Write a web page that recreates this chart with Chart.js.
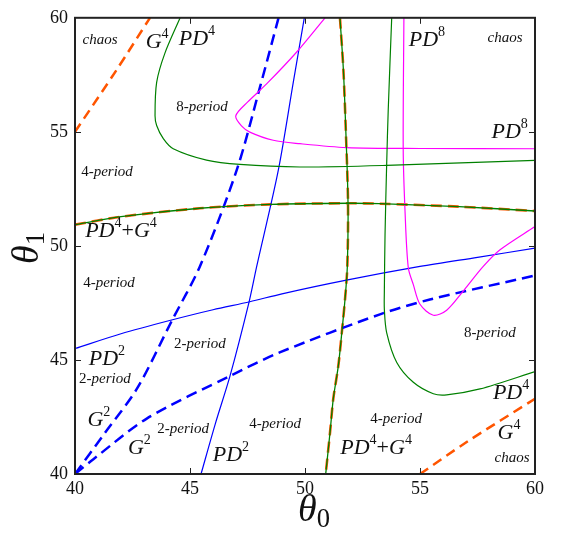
<!DOCTYPE html>
<html>
<head>
<meta charset="utf-8">
<script src="https://cdn.jsdelivr.net/npm/chart.js@4.4.1/dist/chart.umd.min.js"></script>
<style>
  html, body { margin: 0; padding: 0; background: #fff; }
  canvas { display: block; }
</style>
</head>
<body>
<canvas id="myChart" width="561" height="535"></canvas>
<script>
// axis ticks
const xTicks = [40, 45, 50, 55, 60];
const yTicks = [40, 45, 50, 55, 60];

// PD^2 curves (blue solid)
const pd2ShallowX = [40, 42, 44.2, 46, 47.6, 49, 51.8, 55, 57.5, 60];
const pd2ShallowY = [45.5, 46.15, 46.75, 47.2, 47.55, 47.9, 48.5, 49.1, 49.5, 49.9];
const pd2SteepX = [45.48, 46.1, 46.74, 47.57, 47.9, 48.84, 49.49, 49.97];
const pd2SteepY = [40, 42.2, 44.3, 47.55, 49.1, 53.32, 57.17, 60];

// G^2 curves (blue dashed)
const g2SteepX = [40, 41.3, 42.7, 44.2, 45.43, 47.03, 48.04, 48.85];
const g2SteepY = [40, 41.8, 43.75, 46.7, 49.1, 53.32, 56.95, 60];
const g2ShallowX = [40, 40.8, 43.12, 46.74, 48.9, 53.26, 55.43, 60];
const g2ShallowY = [40, 40.65, 42.43, 44.3, 45.33, 47.0, 47.65, 48.7];

// G^4 curves (orange dashed)
const g4TopX = [40, 41.83, 43.26];
const g4TopY = [55, 57.75, 60];
const g4BottomX = [55, 57.03, 60];
const g4BottomY = [40, 41.4, 43.3];

// PD^4 curves (green)
const pd4UpperX = [44.57, 43.91, 43.55, 43.48, 43.55, 43.84, 44.27, 45.72, 47.17, 49.78, 53.55, 60];
const pd4UpperY = [60, 58.45, 57.17, 55.71, 55.28, 54.7, 54.26, 53.76, 53.57, 53.46, 53.53, 53.75];
const pd4RightX = [53.77, 53.62, 53.55, 53.48, 53.45, 53.45, 53.55, 53.99, 54.71, 55.58, 56.16, 57.61, 60];
const pd4RightY = [60, 56, 53.55, 50.5, 48, 47.22, 46.2, 44.89, 44.02, 43.52, 43.47, 43.73, 44.49];

// PD^4+G^4 curves (green over orange dashed)
const pdgHorizX = [40, 42, 45.43, 48.52, 51.88, 53.26, 56.7, 60];
const pdgHorizY = [50.93, 51.28, 51.65, 51.82, 51.87, 51.85, 51.72, 51.53];
const pdgVertX = [51.52, 51.67, 51.78, 51.87, 51.84, 51.74, 51.6, 51.45, 51.23, 51.09, 50.9];
const pdgVertY = [60, 57.7, 54.9, 51.9, 49.1, 47.66, 46.2, 44.75, 43.3, 41.84, 40];

// PD^8 curves (magenta)
const pd8UpperX = [50.87, 49.64, 48.33, 47.5, 46.99, 47.25, 47.6, 48.62, 49.78, 51.81, 55, 60];
const pd8UpperY = [60, 58.5, 57.1, 56.3, 55.7, 55.25, 54.99, 54.63, 54.48, 54.31, 54.27, 54.26];
const pd8RightX = [54.3, 54.27, 54.35, 54.49, 54.71, 55.0, 55.58, 56.16, 56.88, 57.75, 58.48, 60];
const pd8RightY = [60, 54.26, 51.5, 49.05, 48.3, 47.44, 46.96, 47.18, 48.02, 49.1, 49.83, 50.85];

// text labels: [text, x, y, size]
const notes = [
  ['chaos', 41.09, 59.04, 15],
  ['G^4', 43.57, 58.95, 22],
  ['PD^4', 45.3, 59.05, 22],
  ['PD^8', 55.3, 59.0, 22],
  ['chaos', 58.7, 59.13, 15],
  ['8-period', 45.52, 56.08, 15],
  ['PD^8', 58.9, 55.0, 22],
  ['4-period', 41.39, 53.25, 15],
  ['PD^4+G^4', 42.0, 50.63, 22],
  ['4-period', 41.48, 48.37, 15],
  ['2-period', 45.43, 45.71, 15],
  ['PD^2', 41.39, 45.05, 22],
  ['2-period', 41.3, 44.18, 15],
  ['G^2', 41.04, 42.35, 22],
  ['2-period', 44.7, 41.96, 15],
  ['G^2', 42.8, 41.13, 22],
  ['PD^2', 46.78, 40.83, 22],
  ['4-period', 48.7, 42.18, 15],
  ['4-period', 53.96, 42.4, 15],
  ['PD^4+G^4', 53.09, 41.13, 22],
  ['8-period', 58.04, 46.19, 15],
  ['PD^4', 58.96, 43.53, 22],
  ['G^4', 58.87, 41.79, 22],
  ['chaos', 59.0, 40.7, 15]
];

const FONT = '"Liberation Serif", "Times New Roman", serif';

function pts(xs, ys) {
  return xs.map((x, i) => ({ x: x, y: ys[i] }));
}

function curve(xs, ys, color, width, dash, order) {
  return {
    data: pts(xs, ys),
    showLine: true,
    borderColor: color,
    borderWidth: width,
    borderDash: dash || [],
    pointRadius: 0,
    tension: 0.3,
    fill: false,
    order: order || 0
  };
}

// rich text: letters italic, '^' superscript, '_' subscript
function drawRich(ctx, str, size, subScale, subDrop) {
  const toks = [];
  for (let i = 0; i < str.length; i++) {
    let c = str[i], kind = 'n';
    if (c === '^' || c === '_') { kind = c; c = str[++i]; }
    const ital = /[A-Za-zθ]/.test(c);
    const s = kind === 'n' ? size : size * subScale;
    const dy = kind === '^' ? -size * 0.36 : kind === '_' ? size * subDrop : 0;
    toks.push({ c, s, dy, ital });
  }
  let w = 0;
  toks.forEach(t => {
    ctx.font = (t.ital ? 'italic ' : '') + t.s + 'px ' + FONT;
    t.w = ctx.measureText(t.c).width;
    w += t.w;
  });
  let x = -w / 2;
  toks.forEach(t => {
    ctx.font = (t.ital ? 'italic ' : '') + t.s + 'px ' + FONT;
    ctx.fillText(t.c, x, t.dy);
    x += t.w;
  });
}

const decor = {
  id: 'decor',
  afterDatasetsDraw(chart) {
    const ctx = chart.ctx, xs = chart.scales.x, ys = chart.scales.y;
    ctx.save();
    ctx.fillStyle = '#111';
    ctx.textBaseline = 'middle';
    ctx.textAlign = 'left';
    notes.forEach(n => {
      ctx.save();
      ctx.translate(xs.getPixelForValue(n[1]), ys.getPixelForValue(n[2]));
      drawRich(ctx, n[0], n[3], 0.64, 0.25);
      ctx.restore();
    });
    ctx.restore();
  },
  afterDraw(chart) {
    const ctx = chart.ctx, a = chart.chartArea;
    const xs = chart.scales.x, ys = chart.scales.y;
    ctx.save();
    ctx.strokeStyle = '#222';
    ctx.lineWidth = 1;
    ctx.beginPath();
    xTicks.slice(1, -1).forEach(v => {
      const p = Math.round(xs.getPixelForValue(v)) + 0.5;
      ctx.moveTo(p, a.bottom); ctx.lineTo(p, a.bottom - 6);
      ctx.moveTo(p, a.top); ctx.lineTo(p, a.top + 6);
    });
    yTicks.slice(1, -1).forEach(v => {
      const p = Math.round(ys.getPixelForValue(v)) + 0.5;
      ctx.moveTo(a.left, p); ctx.lineTo(a.left + 6, p);
      ctx.moveTo(a.right, p); ctx.lineTo(a.right - 6, p);
    });
    ctx.stroke();
    ctx.lineWidth = 2;
    ctx.strokeRect(a.left, a.top, a.right - a.left, a.bottom - a.top);

    // axis titles
    ctx.fillStyle = '#111';
    ctx.textBaseline = 'middle';
    ctx.save();
    ctx.translate((a.left + a.right) / 2 + 9, 511);
    drawRich(ctx, 'θ_0', 38, 0.7, 0.24);
    ctx.restore();
    ctx.save();
    ctx.translate(28, (a.top + a.bottom) / 2 + 2);
    ctx.rotate(-Math.PI / 2);
    drawRich(ctx, 'θ_1', 38, 0.7, 0.24);
    ctx.restore();
    ctx.restore();
  }
};

const tickFont = { family: FONT, size: 18 };

new Chart(document.getElementById('myChart'), {
  type: 'scatter',
  data: {
    datasets: [
      curve(pdgHorizX, pdgHorizY, '#008000', 1.3, null, 0),
      curve(pdgVertX, pdgVertY, '#008000', 1.3, null, 0),
      curve(pd4UpperX, pd4UpperY, '#008000', 1.2, null, 0),
      curve(pd4RightX, pd4RightY, '#008000', 1.2, null, 0),
      curve(pd8UpperX, pd8UpperY, '#ff00ff', 1.2, null, 0),
      curve(pd8RightX, pd8RightY, '#ff00ff', 1.2, null, 0),
      curve(pd2ShallowX, pd2ShallowY, '#0000ff', 1.2, null, 0),
      curve(pd2SteepX, pd2SteepY, '#0000ff', 1.2, null, 0),
      curve(g2SteepX, g2SteepY, '#0000ff', 2.5, [11, 6], 1),
      curve(g2ShallowX, g2ShallowY, '#0000ff', 2.5, [11, 6], 1),
      curve(pdgHorizX, pdgHorizY, '#ff5500', 2.6, [11, 6], 2),
      curve(pdgVertX, pdgVertY, '#ff5500', 2.6, [11, 6], 2),
      curve(g4TopX, g4TopY, '#ff5500', 2.5, [10, 6], 2),
      curve(g4BottomX, g4BottomY, '#ff5500', 2.5, [10, 6], 2)
    ]
  },
  options: {
    responsive: false,
    animation: false,
    layout: { padding: { top: 15, right: 26, left: 0, bottom: 0 } },
    plugins: { legend: { display: false }, tooltip: { enabled: false } },
    scales: {
      x: {
        type: 'linear', min: 40, max: 60,
        afterBuildTicks: s => { s.ticks = xTicks.map(v => ({ value: v })); },
        afterFit: s => { s.height = 61; },
        ticks: { font: tickFont, color: '#111', padding: 4, maxRotation: 0 },
        grid: { display: false, drawTicks: false },
        border: { display: false }
      },
      y: {
        type: 'linear', min: 40, max: 60,
        afterBuildTicks: s => { s.ticks = yTicks.map(v => ({ value: v })); },
        afterFit: s => { s.width = 75; },
        ticks: { font: tickFont, color: '#111', padding: 7 },
        grid: { display: false, drawTicks: false },
        border: { display: false }
      }
    }
  },
  plugins: [decor]
});
</script>
</body>
</html>
